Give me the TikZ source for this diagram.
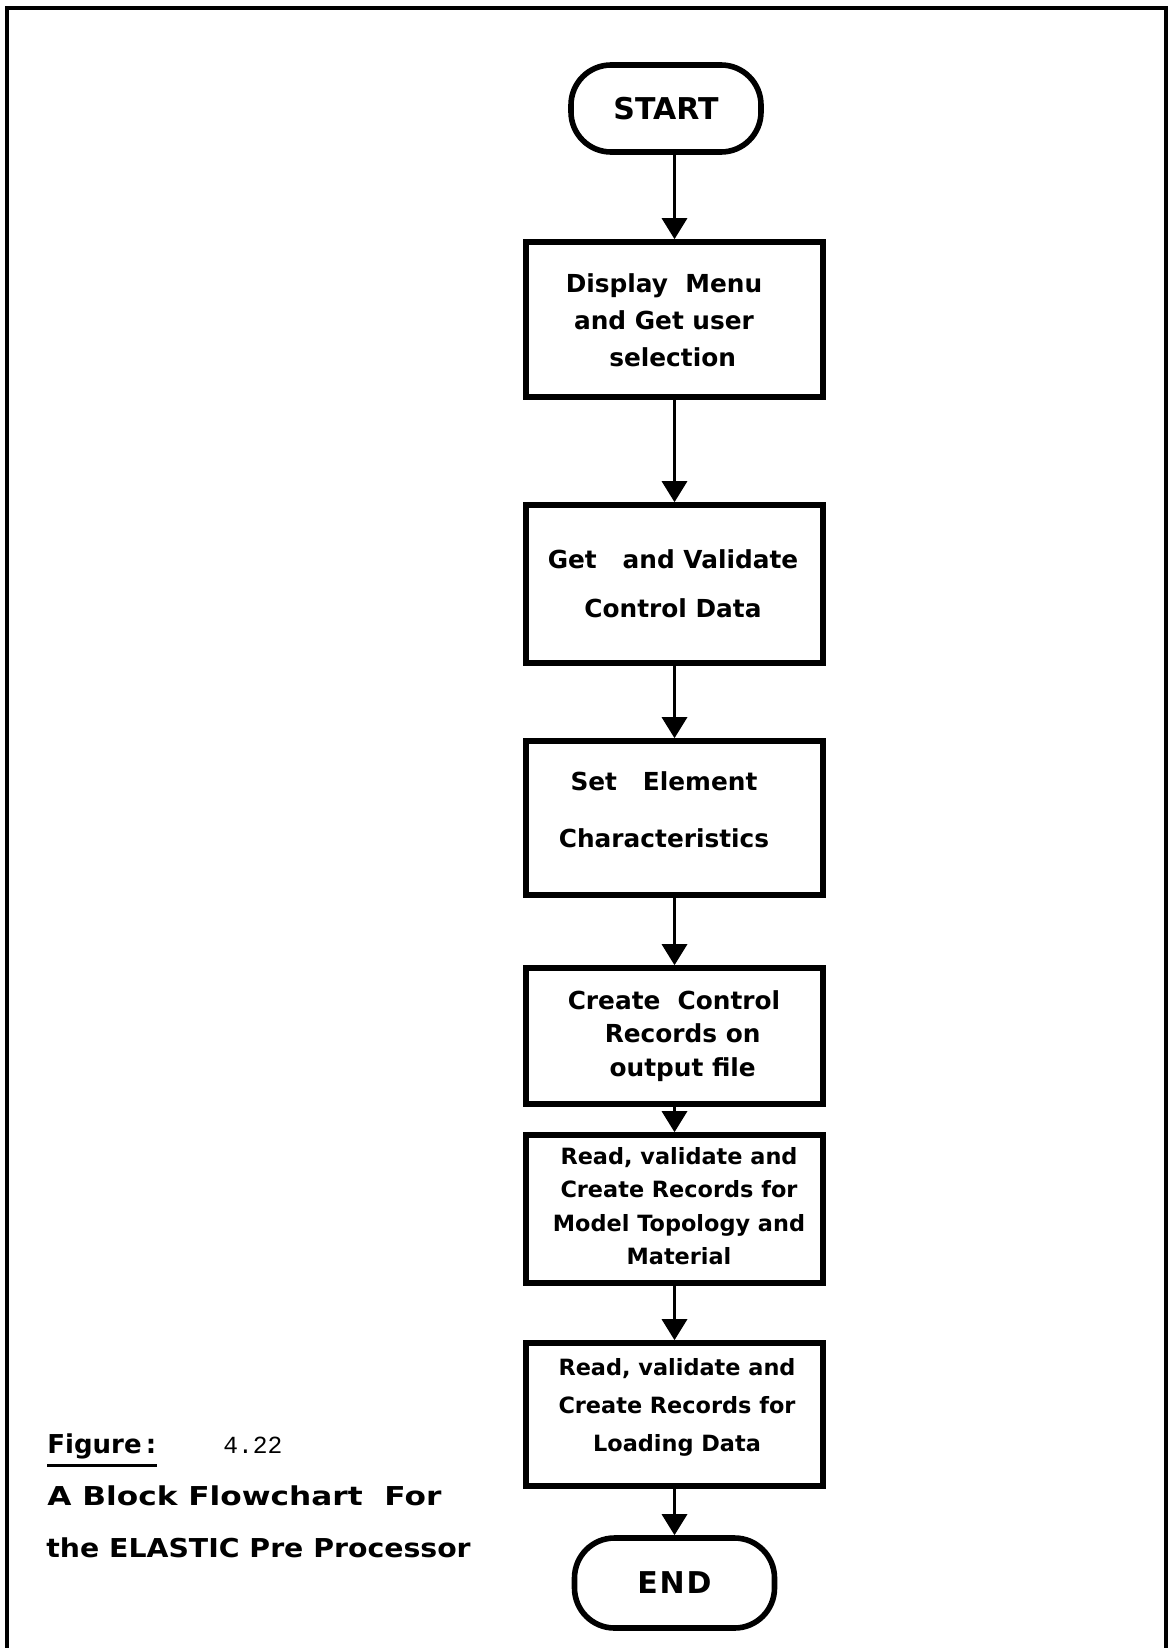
\documentclass[tikz,border=0pt]{standalone}
\usepackage{graphicx}
\usepackage{fontspec}
\setmainfont{DejaVu Sans}
\setmonofont{Liberation Mono}
\usetikzlibrary{arrows.meta}
\begin{document}
\begin{tikzpicture}[x=0.5pt,y=-0.5pt,
  box/.style={draw, line width=2.8pt, rectangle, minimum width=148.5pt, inner sep=0pt},
  term/.style={draw, line width=2.8pt, rectangle, rounded corners=20pt, inner sep=0pt,
    font=\fontsize{15}{18}\selectfont\bfseries},
  lbl/.style={align=center, inner sep=0pt},
  flow/.style={line width=1.6pt, -{Triangle[width=12.5pt,length=10.5pt]}},
  captext/.style={anchor=base west, inner sep=0pt, font=\fontsize{13}{15}\selectfont\bfseries}]
\useasboundingbox (0,0) rectangle (1168,1648);

% open page frame
\draw[line width=1.6pt] (7,1648) -- (7,8) -- (1166,8) -- (1166,1648);

% terminals
\node[term, minimum width=95pt, minimum height=43.5pt] (start) at (666,108.5) {START};
\node[term, minimum width=100pt, minimum height=45pt] (end) at (674.5,1583)
  {\addfontfeatures{LetterSpace=6}END};

% process boxes
\node[box, minimum height=77.5pt] (b1) at (674.5,319.5) {};
\node[box, minimum height=79pt]   (b2) at (674.5,584) {};
\node[box, minimum height=77pt]   (b3) at (674.5,818) {};
\node[box, minimum height=68pt]   (b4) at (674.5,1036) {};
\node[box, minimum height=74pt]   (b5) at (674.5,1209) {};
\node[box, minimum height=71.5pt] (b6) at (674.5,1414.5) {};

% box texts
\node[lbl, font=\fontsize{12.4}{18.5}\selectfont\bfseries] (t1) at (664,320)
  {Display\ \ Menu\\and\ Get\ user\\\ \ selection};
\node[lbl, font=\fontsize{12.4}{24.5}\selectfont\bfseries] (t2) at (673,584)
  {Get\ \ \ and Validate\\Control\ Data};
\node[lbl, font=\fontsize{12.4}{28.5}\selectfont\bfseries] (t3) at (664,810)
  {Set\ \ \ Element\\Characteristics};
\node[lbl, font=\fontsize{12.4}{16.75}\selectfont\bfseries] (t4) at (674,1036)
  {Create\ \ Control\\\ \ Records on\\\ \ output file};
\node[lbl, font=\fontsize{11.2}{16.7}\selectfont\bfseries] (t5) at (679,1206)
  {Read, validate and\\Create Records for\\Model Topology and\\Material};
\node[lbl, font=\fontsize{11.2}{19}\selectfont\bfseries] (t6) at (677,1407)
  {Read, validate and\\Create Records for\\Loading Data};

% connectors
\draw[flow] (start.south -| b1.north) -- (b1.north);
\draw[flow] (b1) -- (b2);
\draw[flow] (b2) -- (b3);
\draw[flow] (b3) -- (b4);
\draw[flow] (b4) -- (b5);
\draw[flow] (b5) -- (b6);
\draw[flow] (b6) -- (end);

% caption
\node[captext] (fig) at (47,1453) {Figure\,:};
\draw[line width=1.5pt] ([yshift=-6pt]fig.base west) -- ([yshift=-6pt]fig.base east);
\node[anchor=base west, inner sep=0pt, font=\fontsize{12.3}{14}\selectfont\ttfamily] (num) at (223,1453) {4.22};
\node[captext] (cap1) at (47,1505) {\scalebox{1.2}[1]{A Block Flowchart\ \ For}};
\node[captext] (cap2) at (46,1557) {\scalebox{1.09}[1]{the ELASTIC Pre Processor}};
\end{tikzpicture}
\end{document}
